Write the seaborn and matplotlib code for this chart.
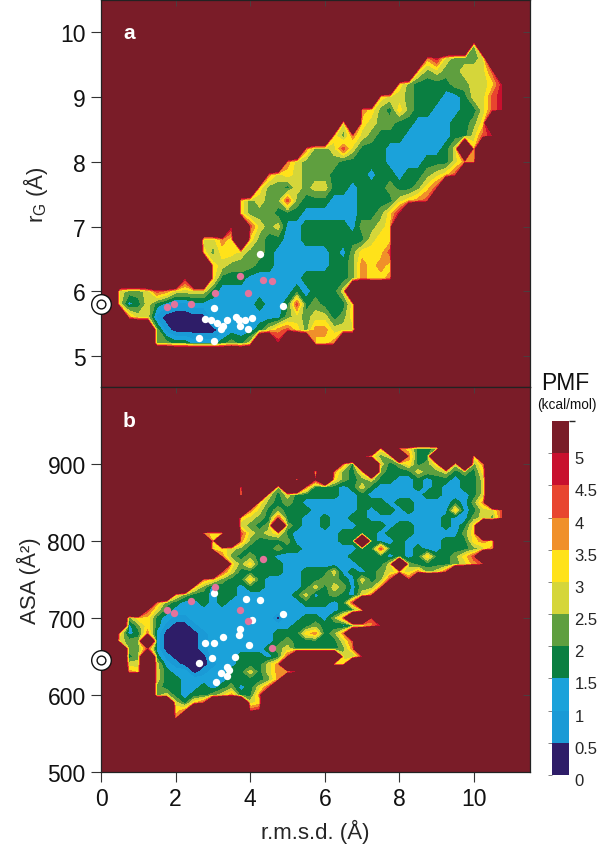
import numpy as np
import pandas as pd
import matplotlib
matplotlib.use("Agg")
import matplotlib.pyplot as plt
from matplotlib.colors import ListedColormap, BoundaryNorm
from matplotlib.cm import ScalarMappable
from matplotlib.transforms import ScaledTranslation
import seaborn as sns

# PMF band per grid cell: digit d = band [d/2, d/2+0.5] kcal/mol,
# '.' = never sampled. Each row: (axis value, first rmsd column, digits).
RMSD_START, RMSD_STEP, RMSD_COLS = 0.5, 0.25, 42
RG_ROWS = [
 (9.8,38,"4"),
 (9.6,33,"7954445"),
 (9.4,32,"645445558"),
 (9.2,30,"643333445569"),
 (9.0,28,"65543332235589"),
 (8.8,26,"7643643322233589"),
 (8.6,24,"5.65443322223346"),
 (8.4,23,"647543332222233589"),
 (8.2,20,"74458533322222235.6"),
 (8.0,18,"754444333332222333577"),
 (7.8,16,"756544433332332334568"),
 (7.6,15,"64435455332333433468"),
 (7.4,13,"645448433322233335678"),
 (7.2,13,"644433322222233469"),
 (7.0,12,"9.8545223333324456.8"),
 (6.8,9,"5576.6433223333333566"),
 (6.6,9,"646654432222223246668"),
 (6.4,10,"65444332222223347676"),
 (6.2,7,"9..63332222223333347667"),
 (6.0,0,"5445875555322222222323335"),
 (5.8,0,"52353211222222232238343336"),
 (5.6,1,"7551000002222222245455346"),
 (5.4,4,"4100000122235786477555"),
 (5.2,4,"44332223435..9...667"),
 (5.0,17,"9"),
]
ASA_ROWS = [
 (920,28,"6.76334"),
 (910,26,"9645.733....6"),
 (900,24,"73..5346346.5.47"),
 (890,21,"5.7436.433354453436"),
 (880,19,"5.9.64345332232332335"),
 (870,13,"7...4..73332353222232322335"),
 (860,13,"6..535333332232222223322235"),
 (850,15,"6434322222233323322223247"),
 (840,14,"7534333222223233232222623558"),
 (830,13,"65438332232233222222223224548"),
 (820,13,"5434.432232223332332223236"),
 (810,9,"766.85456322222333323332222246"),
 (800,10,"6..7433342222233.32232222333676"),
 (790,10,"56543334332222223383323223 3345 7".replace(" ","")),
 (780,11,"7434332222222233332323633468"),
 (770,12,"6463332222222233 35.433334578".replace(" ","")),
 (760,11,"85333332233352323456574 58".replace(" ","")),
 (750,9,"764336322223344325348.8"),
 (740,8,"6423323322223 5354244 7".replace(" ","")),
 (730,6,"6433233222222352343 257".replace(" ","")),
 (720,4,"7 4322323222222223332 38".replace(" ","")),
 (710,3,"85322222222222222222233 6".replace(" ","")),
 (700,1,"46632112222222220 2 233 24 7..8".replace(" ","")),
 (690,1,"24631001222222222233 43323 479".replace(" ","")),
 (680,0,"6237200001222222233367 3 47".replace(" ","")),
 (670,0,"544.2000012222222343333358"),
 (660,1,"44820000122222234533333 47".replace(" ","")),
 (650,1,"34.31000022233323 8.....5 48".replace(" ","")),
 (640,1,"55.5210001223335 7.....66".replace(" ","")),
 (630,1,"76.5322012233535 768".replace(" ","")),
 (620,4,"533222223 33347...8".replace(" ","")),
 (610,4,"433223234235 8".replace(" ","")),
 (600,4,"45323345733 7".replace(" ","")),
 (590,6,"536 8 ....56".replace(" ","")),
 (580,6,"67......89"),
 (570,6,"7"),
]
UNSAMPLED = 12.0

WHITE_A_X = [4.25,3.03,2.79,2.96,3.10,3.37,3.28,3.21,3.61,3.70,3.86,3.72,3.95,4.04,2.63,3.04,4.88]
WHITE_A_Y = [6.57,5.74,5.57,5.56,5.51,5.55,5.47,5.42,5.60,5.55,5.55,5.46,5.42,5.58,5.28,5.23,5.77]
PINK_X = [1.78,1.96,2.42,3.05,3.73,3.95,4.33,4.58]
PINK_A_Y = [5.75,5.80,5.81,5.98,6.24,5.97,6.17,6.16]
WHITE_B_X = [3.03,3.88,4.26,4.88,4.05,3.72,3.71,3.27,3.04,2.79,3.96,2.98,3.60,2.63,3.37,3.44,3.22,3.38,3.08]
WHITE_B_Y = [733,725,724,705,698,686,678,675,668,668,665,648,649,641,637,633,628,625,617]
PINK_B_Y = [710,707,722,740,711,696,776,661]
NATIVE_A, NATIVE_B = 5.8, 645

LEVELS = [0,0.5,1,1.5,2,2.5,3,3.5,4,4.5,5]
BAND_COLORS = ["#2e1d68","#1a9ad6","#1ba2da","#0a7f41","#5f9f3f","#d5d63a",
               "#ffe21a","#f0902a","#e8452f","#c8102e","#7a1c28"]
CBAR_TICKS = [0,0.5,1,1.5,2,2.5,3,3.5,4,4.5,5]
CBAR_LABELS = ["0","0.5","1","1.5","2","2.5","3","3.5","4","4.5","5"]

def grid(rows):
    ys = [r[0] for r in rows]
    step = abs(ys[0]-ys[1])
    yv = np.r_[ys[-1]-step, ys[::-1], ys[0]+step]
    Z = np.full((len(yv), RMSD_COLS+2), UNSAMPLED)
    for val, start, digits in rows:
        j = np.argmin(np.abs(yv-val))
        for k, ch in enumerate(digits):
            if ch != "." and start+k < RMSD_COLS:
                Z[j, start+k+1] = int(ch)*0.5+0.25
    xv = RMSD_START + RMSD_STEP*(np.arange(RMSD_COLS+2)-1)
    return xv, yv, Z

sns.set_theme(style="ticks")
plt.rcParams["font.family"] = ["Liberation Sans", "DejaVu Sans"]
plt.rcParams["mathtext.fontset"] = "custom"
plt.rcParams["mathtext.rm"] = "Liberation Sans"
plt.rcParams["mathtext.default"] = "regular"
W, H = 597, 853
fig = plt.figure(figsize=(W/100, H/100), dpi=100, facecolor="white")
def px_axes(l, t, r, b):
    return fig.add_axes([l/W, 1-b/H, (r-l)/W, (b-t)/H])
axa = px_axes(101, 1, 530, 388)
axb = px_axes(101, 388, 530, 773)

def panel(ax, rows, wx, wy, py, nat, ylim, yticks, letter, ly):
    xv, yv, Z = grid(rows)
    ax.set_facecolor(BAND_COLORS[-1])
    ax.contourf(xv, yv, Z, levels=LEVELS+[100], colors=BAND_COLORS)
    sns.scatterplot(x=wx, y=wy, ax=ax, color="white", s=28, linewidth=0, zorder=5, legend=False)
    sns.scatterplot(x=PINK_X, y=py, ax=ax, color="#e4749c", s=28, linewidth=0, zorder=5, legend=False)
    sns.scatterplot(x=[0], y=[nat], ax=ax, color="white", edgecolor="#111111", s=200, linewidth=1.0, zorder=6, clip_on=False, legend=False)
    sns.scatterplot(x=[0], y=[nat], ax=ax, color="white", edgecolor="#111111", s=40, linewidth=1.0, zorder=7, clip_on=False, legend=False)
    ax.set_xlim(0, 11.5); ax.set_ylim(*ylim)
    ax.set_yticks(yticks)
    ax.set_xticks([0,2,4,6,8,10])
    ax.tick_params(axis="both", labelsize=16.5, length=7, width=0.8, color="#333333", labelcolor="#111111", pad=4)
    ax.text(0.75, ly, letter, color="white", fontsize=15, fontweight="bold", ha="center", va="center", zorder=8)
    for s in ax.spines.values():
        s.set_linewidth(0.9); s.set_color("#222222")
    top = ax.secondary_xaxis("top"); top.set_xticks([2,4,6,8,10]); top.tick_params(direction="in", length=4, width=0.6, labeltop=False, color="#444444")
    top.spines["top"].set_visible(False)
    right = ax.secondary_yaxis("right"); right.set_yticks(yticks); right.tick_params(direction="in", length=5, width=0.6, labelright=False, color="#444444")
    right.spines["right"].set_visible(False)

panel(axa, RG_ROWS, WHITE_A_X, WHITE_A_Y, PINK_A_Y, NATIVE_A, (4.52,10.5), [5,6,7,8,9,10], "a", 10.0)
panel(axb, ASA_ROWS, WHITE_B_X, WHITE_B_Y, PINK_B_Y, NATIVE_B, (500,1000), [500,600,700,800,900], "b", 957)
axa.tick_params(axis="x", bottom=False, labelbottom=False)
axa.set_ylabel("r$_{G}$ (Å)", fontsize=16)
axa.yaxis.set_label_coords(-0.120, 0.5)
axb.set_ylabel("ASA (Å²)", fontsize=16)
axb.yaxis.set_label_coords(-0.140, 0.5)
axb.set_xlabel("r.m.s.d. (Å)", fontsize=16)
axb.xaxis.set_label_coords(0.5, -0.153)
axb.xaxis.label.set_va("center")

cax = px_axes(552, 422, 569, 776)
sm = ScalarMappable(norm=BoundaryNorm(LEVELS+[5.5], 11), cmap=ListedColormap(BAND_COLORS))
cb = fig.colorbar(sm, cax=cax, spacing="proportional", ticks=CBAR_TICKS, drawedges=False)
cb.outline.set_visible(False)
cb.ax.set_yticklabels(CBAR_LABELS)
cb.ax.tick_params(axis="y", left=True, right=False, labelright=True, labelleft=False, length=3, width=0.5, labelsize=12, pad=1, color="#555555", direction="out")
off = ScaledTranslation(0, -4/100, fig.dpi_scale_trans)
for lab in cb.ax.get_yticklabels():
    lab.set_transform(lab.get_transform()+off)
fig.text(565/W, 1-384/H, "PMF", fontsize=16.5, ha="center", va="center", color="#111111")
fig.text(567/W, 1-405/H, "(kcal/mol)", fontsize=9.8, ha="center", va="center", color="#111111")
fig.savefig("out.png", dpi=100)
